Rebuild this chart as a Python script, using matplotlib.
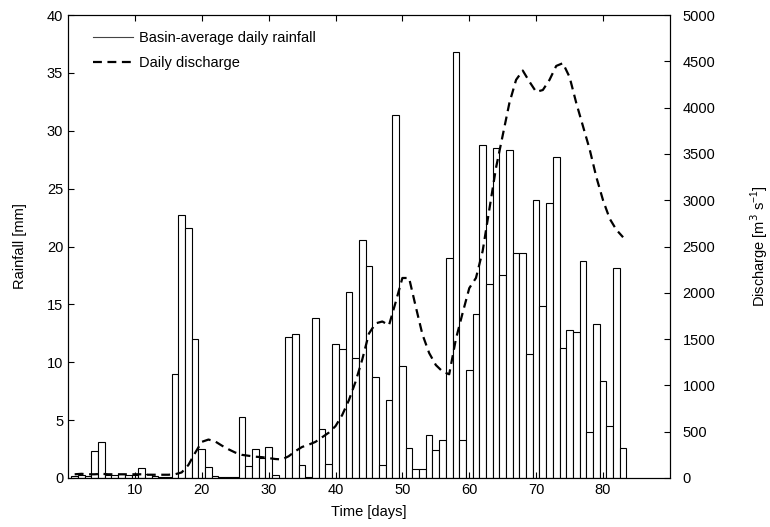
import numpy as np
import matplotlib.pyplot as plt
from matplotlib.lines import Line2D

plt.rcParams['font.family'] = ['Liberation Sans', 'DejaVu Sans']
plt.rcParams['font.size'] = 10.5

days = np.arange(1, 84)

rainfall = [0.2, 0.25, 0.15, 2.3, 3.1, 0.3, 0.3, 0.35, 0.3, 0.3,
            0.84, 0.35, 0.2, 0.1, 0.05, 9.0, 22.7, 21.6, 12.0, 2.5,
            0.95, 0.2, 0.1, 0.05, 0.1, 5.3, 1.05, 2.5, 1.7, 2.7,
            0.25, 0.0, 12.2, 12.4, 1.1, 0.05, 13.8, 4.2, 1.25, 11.55,
            11.15, 16.1, 10.4, 20.6, 18.35, 8.7, 1.15, 6.75, 31.35, 9.65,
            2.6, 0.78, 0.78, 3.7, 2.45, 3.25, 19.0, 36.8, 3.3, 9.35,
            14.2, 28.75, 16.8, 28.55, 17.5, 28.35, 19.45, 19.4, 10.75, 24.0,
            14.9, 23.8, 27.7, 11.2, 12.75, 12.65, 18.75, 4.0, 13.3, 8.4,
            4.5, 18.1, 2.6]

discharge = [40, 45, 40, 40, 45, 40, 40, 40, 40, 40,
             40, 35, 35, 35, 35, 40, 60, 140, 270, 390,
             415, 395, 350, 310, 275, 250, 240, 230, 225, 215,
             205, 200, 235, 290, 335, 360, 390, 440, 490, 560,
             680, 840, 1040, 1280, 1560, 1670, 1690, 1650, 1900, 2160,
             2160, 1850, 1550, 1350, 1220, 1150, 1120, 1500, 1780, 2050,
             2160, 2450, 2900, 3350, 3700, 4050, 4300, 4400, 4280, 4170,
             4190, 4300, 4450, 4480, 4330, 4050, 3800, 3550, 3250, 3000,
             2800, 2680, 2600]

fig = plt.figure(figsize=(7.7, 5.27), dpi=100)
ax = fig.add_axes([0.0883, 0.093, 0.7817, 0.8785])
ax.bar(days, rainfall, width=1.0, color='white', edgecolor='black', linewidth=0.8)
ax.set_xlim(0, 90)
ax.set_ylim(0, 40)
ax.set_xticks(range(10, 90, 10))
ax.set_yticks(range(0, 45, 5))
ax.tick_params(direction='in', length=4, top=True, right=False)
ax.set_xlabel('Time [days]', labelpad=6)
ax.set_ylabel('Rainfall [mm]', labelpad=14)

ax2 = ax.twinx()
ax2.plot(days, discharge, color='black', linestyle=(0, (4, 2.5)), linewidth=1.6)
ax2.set_ylim(0, 5000)
ax2.set_yticks(range(0, 5500, 500))
ax2.tick_params(direction='in', length=4, pad=9)
ax2.set_ylabel('Discharge [m$^3$ s$^{\\mathregular{-1}}$]', labelpad=24)

handles = [Line2D([], [], color='#444444', linewidth=0.8),
           Line2D([], [], color='black', linestyle=(0, (4, 2.5)), linewidth=1.6)]
ax.legend(handles, ['Basin-average daily rainfall', 'Daily discharge'],
          loc='upper left', frameon=False, handlelength=2.75, handletextpad=0.45,
          bbox_to_anchor=(0.019, 0.993), labelspacing=0.75, fontsize=10.5)

plt.savefig('out.png', dpi=100)
